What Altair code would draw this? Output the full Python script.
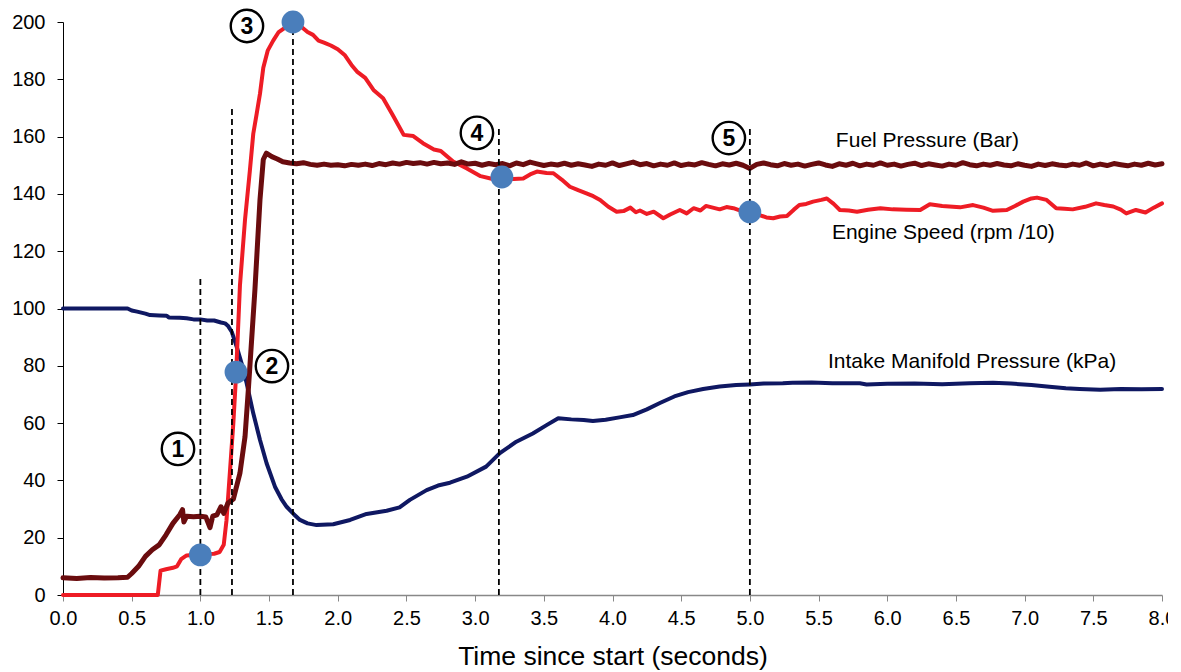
import altair as alt
import pandas as pd

# ---- Engine start-up trace: time (s) and values ----
# Intake manifold pressure (kPa)
map_t = [0.0, 0.47, 0.5, 0.54, 0.6, 0.633, 0.7, 0.755, 0.77, 0.85, 0.9, 0.95, 1.0, 1.05, 1.1,
         1.15, 1.18, 1.2, 1.228, 1.264, 1.30, 1.337, 1.385, 1.434, 1.482, 1.543, 1.59, 1.628,
         1.68, 1.725, 1.78, 1.846, 1.967, 2.09, 2.21, 2.356, 2.45, 2.525, 2.647, 2.73, 2.817,
         2.94, 3.08, 3.18, 3.30, 3.42, 3.52, 3.605, 3.7, 3.79, 3.857, 3.95, 4.05, 4.148, 4.25,
         4.345, 4.45, 4.55, 4.66, 4.78, 4.9, 5.0, 5.1, 5.24, 5.31, 5.45, 5.6, 5.8, 5.85, 6.0,
         6.2, 6.4, 6.6, 6.77, 6.9, 7.05, 7.18, 7.3, 7.4, 7.55, 7.7, 7.85, 8.0]
map_v = [100, 100, 99.3, 98.9, 98.2, 97.7, 97.6, 97.5, 96.9, 96.8, 96.6, 96.2, 96.2, 95.8, 95.8,
         95.1, 94.8, 94.0, 91.9, 86.7, 80.9, 73.9, 63.4, 54.1, 46.0, 37.8, 33.5, 30.8,
         28.2, 26.2, 25.0, 24.4, 24.7, 26.2, 28.3, 29.4, 30.6, 33.2, 36.6, 38.2, 39.2,
         41.3, 44.8, 49.5, 53.5, 56.4, 59.3, 61.7, 61.3, 61.1, 60.7, 61.2, 62.0, 62.8, 64.8,
         67.0, 69.3, 70.8, 71.9, 72.8, 73.3, 73.5, 73.8, 73.9, 74.1, 74.2, 73.9, 73.9, 73.5, 73.7,
         73.8, 73.6, 73.9, 74.1, 73.8, 73.3, 72.7, 72.2, 71.9, 71.6, 71.9, 71.8, 71.9]

# Engine speed (rpm / 10)
rpm_t = [0.0, 0.69, 0.71, 0.75, 0.8, 0.83, 0.86, 0.9, 1.0, 1.1, 1.14, 1.17, 1.19, 1.215, 1.24,
         1.259, 1.288, 1.325, 1.36, 1.385, 1.41, 1.434, 1.458, 1.49, 1.53, 1.57, 1.63, 1.68,
         1.73, 1.78, 1.82, 1.86, 1.9, 1.95, 2.0, 2.05, 2.1, 2.14, 2.2, 2.26, 2.33, 2.4, 2.48,
         2.55, 2.62, 2.7, 2.75, 2.84, 2.94, 3.04, 3.12, 3.2, 3.28, 3.35, 3.4, 3.45, 3.52, 3.57,
         3.63, 3.69, 3.75, 3.81, 3.86, 3.91, 3.97, 4.03, 4.08, 4.13, 4.17, 4.2, 4.25, 4.3, 4.37,
         4.42, 4.49, 4.54, 4.59, 4.64, 4.68, 4.73, 4.78, 4.83, 4.88, 4.94, 5.0, 5.07, 5.12, 5.17,
         5.22, 5.27, 5.32, 5.36, 5.41, 5.46, 5.52, 5.56, 5.61, 5.655, 5.72, 5.78, 5.86, 5.95,
         6.04, 6.14, 6.24, 6.31, 6.4, 6.53, 6.625, 6.7, 6.77, 6.87, 6.93, 6.99, 7.05, 7.09, 7.16,
         7.23, 7.29, 7.35, 7.44, 7.52, 7.58, 7.645, 7.7, 7.74, 7.81, 7.88, 7.94, 8.0]
rpm_v = [0, 0, 8.5, 9.0, 9.5, 10.0, 12.5, 13.8, 14.2, 14.4, 15.0, 17.5, 26.0, 43.0, 60.0,
         76.0, 108.0, 131.0, 148.0, 161.0, 168.0, 175.0, 184.0, 190.0, 193.5, 196.5, 198.5, 200.0,
         198.5, 196.5, 195.5, 193.5, 192.8, 191.8, 190.5, 188.5, 185.0, 182.7, 180.5, 176.3, 173.4, 167.5, 160.6,
         160.2, 157.7, 155.5, 155.0, 151.3, 148.9, 146.2, 145.3, 145.4, 145.2, 145.4, 146.8, 147.8, 147.3, 147.2,
         145.0, 142.5, 141.3, 140.2, 139.2, 137.9, 135.5, 133.8, 134.0, 135.2, 133.6, 134.2, 133.0, 133.8, 131.5,
         132.8, 134.4, 133.2, 135.0, 134.2, 135.8, 135.2, 134.6, 135.4, 135.0, 134.0, 133.8, 132.6, 131.8, 131.5,
         132.1, 132.3, 134.5, 136.1, 136.5, 137.3, 137.9, 138.4, 136.5, 134.4, 134.2, 133.8, 134.5, 135.0,
         134.6, 134.5, 134.4, 136.4, 135.8, 135.3, 136.1, 135.2, 134.1, 134.4, 135.8, 137.3, 138.4, 138.7, 137.9,
         135.0, 134.8, 134.6, 135.5, 136.7, 136.1, 135.6, 134.5, 133.2, 134.4, 133.5, 135.2, 136.7]

# Fuel rail pressure (bar)
fuel_t = [0.0, 0.1, 0.2, 0.3, 0.4, 0.47, 0.5, 0.55, 0.6, 0.65, 0.7, 0.75, 0.8, 0.85, 0.87, 0.88,
          0.9, 0.95, 1.0, 1.04, 1.07, 1.09, 1.12, 1.15, 1.17, 1.2, 1.24, 1.288, 1.325, 1.349,
          1.373, 1.397, 1.434, 1.458, 1.48, 1.52, 1.56, 1.6,
          1.65, 1.70, 1.75, 1.80, 1.85, 1.90, 1.95, 2.00, 2.05, 2.10, 2.15, 2.20, 2.25, 2.30,
          2.35, 2.40, 2.45, 2.50, 2.55, 2.60, 2.65, 2.70, 2.75, 2.80, 2.85, 2.90, 2.95, 3.00,
          3.05, 3.10, 3.15, 3.20, 3.25, 3.30, 3.35, 3.40, 3.45, 3.50, 3.55, 3.60, 3.65, 3.70,
          3.75, 3.80, 3.85, 3.90, 3.95, 4.00, 4.05, 4.10, 4.15, 4.20, 4.25, 4.30, 4.35, 4.40,
          4.45, 4.50, 4.55, 4.60, 4.65, 4.70, 4.75, 4.80, 4.85, 4.90, 4.95, 5.00, 5.05, 5.10,
          5.15, 5.20, 5.25, 5.30, 5.35, 5.40, 5.45, 5.50, 5.55, 5.60, 5.65, 5.70, 5.75, 5.80,
          5.85, 5.90, 5.95, 6.00, 6.05, 6.10, 6.15, 6.20, 6.25, 6.30, 6.35, 6.40, 6.45, 6.50,
          6.55, 6.60, 6.65, 6.70, 6.75, 6.80, 6.85, 6.90, 6.95, 7.00, 7.05, 7.10, 7.15, 7.20,
          7.25, 7.30, 7.35, 7.40, 7.45, 7.50, 7.55, 7.60, 7.65, 7.70, 7.75, 7.80, 7.85, 7.90,
          7.95, 8.00]
fuel_v = [6.0, 5.8, 6.1, 5.9, 6.0, 6.2, 7.5, 10.0, 13.5, 15.8, 17.5, 21.0, 25.0, 28.0, 29.8, 25.5,
          27.5, 27.3, 27.5, 27.2, 23.5, 27.5, 28.0, 30.8, 28.5, 32.0, 33.5, 42.5, 55.3, 71.6,
          89.0, 106.5, 138.0, 152.0, 154.2, 153.0, 152.2, 151.2,
          150.8, 150.5, 150.9, 150.3, 150.0, 150.4, 150.0, 150.2, 149.8, 150.3, 150.0, 150.4, 149.9, 150.6,
          150.2, 150.8, 150.4, 151.0, 150.6, 150.9, 150.4, 151.0, 150.5, 150.8, 150.3, 151.2, 150.4, 150.7,
          150.0, 150.6, 150.2, 150.6, 149.8, 150.8, 150.2, 151.1, 150.5, 149.9, 150.4, 150.1, 150.7, 150.0,
          150.5, 150.1, 149.6, 150.4, 150.0, 150.8, 149.9, 150.5, 151.1, 150.2, 150.6, 149.8, 150.4, 150.0,
          150.8, 149.9, 150.4, 150.1, 150.9, 150.3, 149.8, 150.5, 150.1, 150.7, 150.0, 148.9, 150.3, 150.8,
          150.2, 149.8, 150.6, 150.0, 150.4, 149.7, 150.3, 150.8, 150.1, 149.6, 150.5, 150.0, 150.7, 149.8,
          150.4, 150.0, 150.8, 150.0, 150.4, 149.7, 150.3, 150.7, 149.9, 150.5, 150.1, 149.7, 150.4, 150.0,
          150.9, 150.2, 149.8, 150.4, 150.0, 150.6, 150.1, 149.8, 150.5, 150.0, 149.6, 150.4, 149.9, 150.5,
          150.1, 149.8, 150.4, 150.0, 150.8, 149.8, 150.4, 149.9, 150.6, 150.2, 149.8, 150.4, 150.0, 150.7,
          150.1, 150.5]

# Stage markers on the engine speed trace
stage_t = [1.0, 1.259, 1.674, 3.195, 5.0]
stage_v = [14.0, 77.8, 200.0, 145.9, 133.7]

# Dashed guide lines (time, top)
guide_t = [1.0, 1.23, 1.674, 3.173, 5.0]
guide_top = [110.6, 170.3, 200.0, 163.4, 163.4]

# Circled stage numbers
badge_t = [0.837, 1.521, 1.339, 3.013, 4.847]
badge_v = [51.0, 79.9, 198.6, 161.3, 159.5]
badge_txt = ["1", "2", "3", "4", "5"]

# Series captions
cap_t = [5.626, 5.597, 5.568]
cap_v = [158.3, 126.4, 81.3]
cap_txt = ["Fuel Pressure (Bar)", "Engine Speed (rpm /10)", "Intake Manifold Pressure (kPa)"]

FONT = "Liberation Sans"

x_scale = alt.Scale(domain=[0, 8], nice=False, zero=False)
y_scale = alt.Scale(domain=[0, 200], nice=False)

x_axis = alt.Axis(
    title="Time since start (seconds)",
    values=[i * 0.5 for i in range(17)], format=".1f",
    grid=False, domainColor="#888888", domainWidth=1.5,
    tickColor="#888888", tickSize=6, tickWidth=1,
    labelFont=FONT, labelFontSize=20, labelColor="#000000", labelPadding=7,
    labelFlush=False, labelOverlap=False,
    titleFont=FONT, titleFontSize=26.5, titleFontWeight="normal", titleColor="#000000",
    titlePadding=15,
)
y_axis = alt.Axis(
    title=None, values=list(range(0, 201, 20)),
    grid=False, domainColor="#000000", domainWidth=1,
    tickColor="#000000", tickSize=6, tickWidth=1,
    labelFont=FONT, labelFontSize=20, labelColor="#000000", labelPadding=12,
    labelOverlap=False,
)

def trace(t, v, color, width):
    df = pd.DataFrame({"t": t, "v": v})
    return alt.Chart(df).mark_line(color=color, strokeWidth=width, strokeJoin="round",
                                   strokeCap="round").encode(
        x=alt.X("t:Q", scale=x_scale, axis=x_axis),
        y=alt.Y("v:Q", scale=y_scale, axis=y_axis),
        order="t:Q",
    )

map_line = trace(map_t, map_v, "#0f1862", 4)
rpm_line = trace(rpm_t, rpm_v, "#ee1c25", 4)
fuel_line = trace(fuel_t, fuel_v, "#6a0c0e", 5)

guides = alt.Chart(pd.DataFrame({"t": guide_t, "top": guide_top, "base": [0] * 5})).mark_rule(
    color="#000000", strokeWidth=1.8, strokeDash=[6, 4]
).encode(x="t:Q", y="base:Q", y2="top:Q")

stages = alt.Chart(pd.DataFrame({"t": stage_t, "v": stage_v})).mark_point(
    shape="circle", filled=True, size=520, color="#4a7ebb", opacity=1
).encode(x="t:Q", y="v:Q")

badge_df = pd.DataFrame({"t": badge_t, "v": badge_v, "s": badge_txt})
badge_ring = alt.Chart(badge_df).mark_point(
    shape="circle", size=1050, fill="#ffffff", fillOpacity=1, stroke="#000000",
    strokeWidth=2.4, opacity=1
).encode(x="t:Q", y="v:Q")
badge_num = alt.Chart(badge_df).mark_text(
    font=FONT, fontSize=23, fontWeight="bold", color="#000000",
    align="center", baseline="middle", dy=1
).encode(x="t:Q", y="v:Q", text="s:N")

captions = alt.Chart(pd.DataFrame({"t": cap_t, "v": cap_v, "s": cap_txt})).mark_text(
    font=FONT, fontSize=21, color="#000000", align="left", baseline="middle"
).encode(x="t:Q", y="v:Q", text="s:N")

chart = alt.layer(
    map_line, rpm_line, fuel_line, guides, stages, badge_ring, badge_num, captions
).properties(
    width=1099, height=573,
    padding={"left": 63, "top": 22, "right": 6, "bottom": 77},
    autosize=alt.AutoSizeParams(type="none"),
    background="#ffffff",
).configure_view(stroke=None)

chart.save("out.html", embed_options={"renderer": "svg", "actions": False})
